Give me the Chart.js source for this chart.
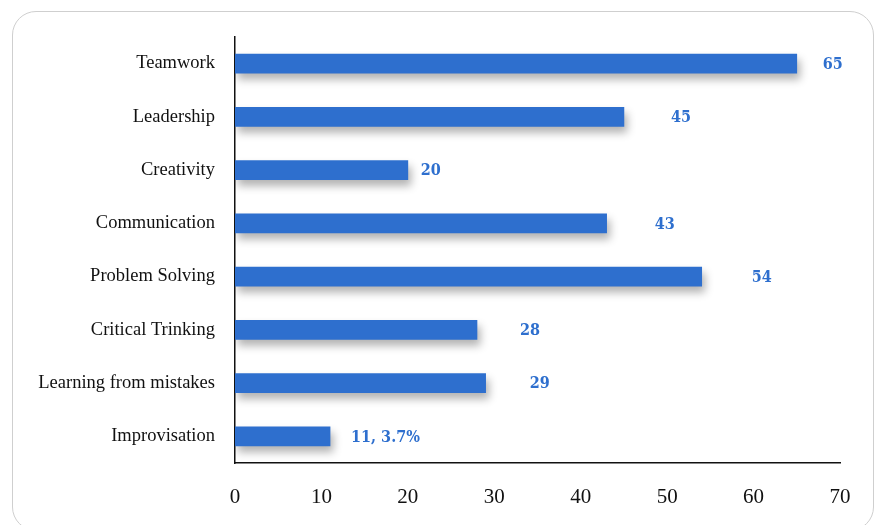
<!DOCTYPE html>
<html>
<head>
<meta charset="utf-8">
<script src="https://cdn.jsdelivr.net/npm/chart.js@4.4.0/dist/chart.umd.min.js"></script>
<style>
  html,body{margin:0;padding:0;background:#fff;}
  #card{position:absolute;left:12px;top:11px;width:862px;height:520px;border:1px solid #cfcfcf;border-radius:24px;box-sizing:border-box;}
  #wrap{position:absolute;left:0;top:0;width:874px;height:525px;}
</style>
</head>
<body>
<div id="card"></div>
<div id="wrap"><canvas id="c" width="874" height="525"></canvas></div>
<script>
const categories = ["Teamwork","Leadership","Creativity","Communication","Problem Solving","Critical Trinking","Learning from mistakes","Improvisation"];
const values = [65,45,20,43,54,28,29,11];
const valueLabels = ["65","45","20","43","54","28","29","11, 3.7%"];
const xTicks = [0,10,20,30,40,50,60,70];

const BLUE = '#2e6fce';
const labelGaps = [26,47,13,48,50,43,44,21];

const barShadow = {
  id:'barShadow',
  beforeDatasetsDraw(chart){
    const c = chart.ctx; c.save();
    c.shadowColor='rgba(0,0,0,0.30)'; c.shadowBlur=9; c.shadowOffsetX=3; c.shadowOffsetY=6;
  },
  afterDatasetsDraw(chart){
    const c = chart.ctx; c.restore();
    const meta = chart.getDatasetMeta(0);
    c.save();
    c.fillStyle = BLUE;
    c.font = 'bold 16px "DejaVu Serif Condensed", "DejaVu Serif", serif';
    c.textAlign='left'; c.textBaseline='middle';
    meta.data.forEach((bar,i)=>{
      c.fillText(valueLabels[i], bar.x + labelGaps[i], bar.y + 1);
    });
    c.restore();
  }
};

new Chart(document.getElementById('c'), {
  type:'bar',
  data:{ labels:categories, datasets:[{ data:values, backgroundColor:BLUE, borderWidth:0, barThickness:19 }]},
  options:{
    indexAxis:'y',
    responsive:false,
    animation:false,
    events:[],
    layout:{ padding:{ top:37, right:34, left:0, bottom:0 } },
    plugins:{ legend:{display:false}, tooltip:{enabled:false} },
    scales:{
      x:{
        min:0, max:70,
        afterBuildTicks(s){ s.ticks = xTicks.map(v=>({value:v})); },
        grid:{display:false, drawTicks:false},
        border:{display:true, color:'#111', width:1.5},
        ticks:{ color:'#111', padding:22, font:{family:'"Liberation Serif", serif', size:21} },
        afterFit(s){ s.height = 525 - 463; }
      },
      y:{
        grid:{display:false, drawTicks:false},
        border:{display:true, color:'#111', width:1.5},
        ticks:{ color:'#111', padding:20, font:{family:'"Liberation Serif", serif', size:18.5} },
        afterFit(s){ s.width = 235; }
      }
    }
  },
  plugins:[barShadow]
});
</script>
</body>
</html>
